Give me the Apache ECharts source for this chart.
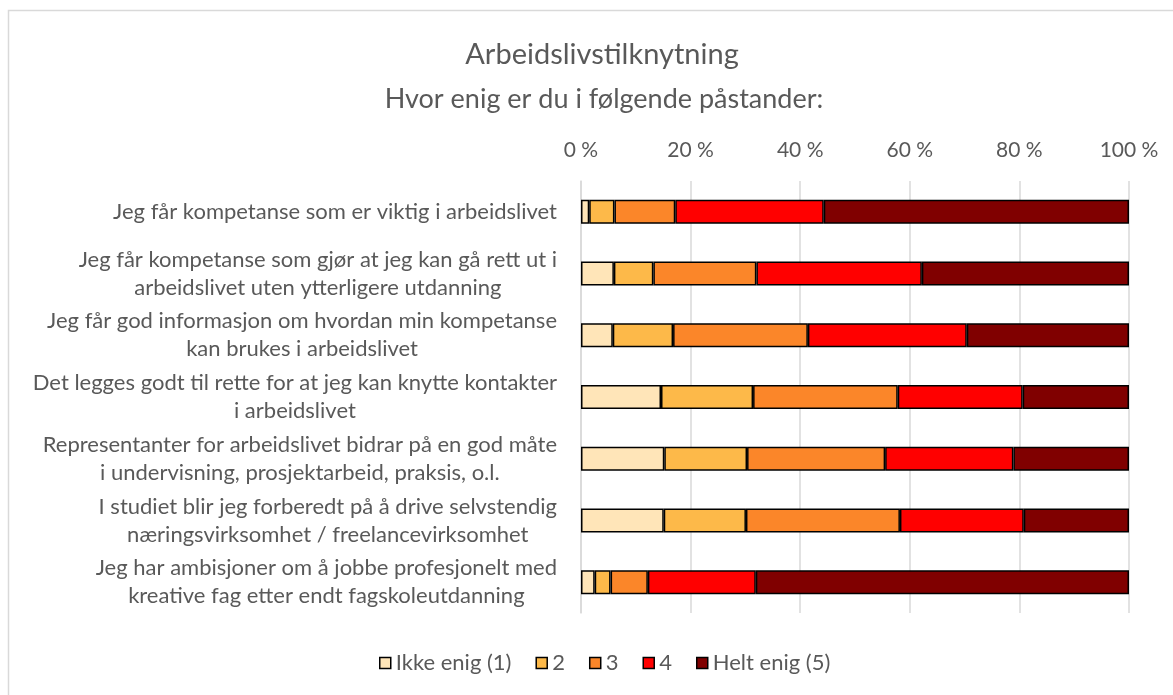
<!DOCTYPE html>
<html>
<head>
<meta charset="utf-8">
<script src="https://cdn.jsdelivr.net/npm/echarts@6/dist/echarts.min.js"></script>
<style>
  html, body { margin: 0; padding: 0; background: #fff; }
  #chart { width: 1173px; height: 695px; }
</style>
</head>
<body>
<div id="chart"></div>
<script>
// statements, top to bottom
const categories = [
  'Jeg får kompetanse som er viktig i arbeidslivet',
  'Jeg får kompetanse som gjør at jeg kan gå rett ut i\narbeidslivet uten ytterligere utdanning',
  'Jeg får god informasjon om hvordan min kompetanse\nkan brukes i arbeidslivet',
  'Det legges godt til rette for at jeg kan knytte kontakter\ni arbeidslivet',
  'Representanter for arbeidslivet bidrar på en god måte\ni undervisning, prosjektarbeid, praksis, o.l.',
  'I studiet blir jeg forberedt på å drive selvstendig\nnæringsvirksomhet / freelancevirksomhet',
  'Jeg har ambisjoner om å jobbe profesjonelt med\nkreative fag etter endt fagskoleutdanning'
]

const seriesNames = ['Ikke enig (1)', '2', '3', '4', 'Helt enig (5)']
const colors = ['#FFE5B8', '#FDB949', '#FB8629', '#FF0000', '#800000']

// share (%) per statement for each answer
const ans1 = [1.5, 6.0, 5.8, 14.6, 15.2, 15.1, 2.5]
const ans2 = [4.6, 7.2, 11.0, 16.8, 15.1, 15.0, 2.9]
const ans3 = [11.1, 18.8, 24.6, 26.4, 25.2, 28.1, 6.8]
const ans4 = [27.1, 30.2, 29.0, 22.8, 23.4, 22.6, 19.7]
const ans5 = [55.7, 37.8, 29.6, 19.4, 21.1, 19.2, 68.1]
const allAnswers = [ans1, ans2, ans3, ans4, ans5]

const xTicks = [0, 20, 40, 60, 80, 100]

const textColor = '#595959'
const fontFamily = 'Lato, "Open Sans", sans-serif'

const chart = echarts.init(document.getElementById('chart'))

chart.setOption({
  animation: false,
  textStyle: { fontFamily: fontFamily },
  graphic: [{
    type: 'rect',
    shape: { x: 8.5, y: 10.5, width: 1300, height: 800 },
    style: { fill: 'none', stroke: '#d9d9d9', lineWidth: 1.5 },
    silent: true
  }],
  title: [
    {
      text: 'Arbeidslivstilknytning',
      left: 597,
      top: 35,
      textAlign: 'center',
      textStyle: { color: textColor, fontSize: 29, fontWeight: 'normal', fontFamily: fontFamily }
    },
    {
      text: 'Hvor enig er du i følgende påstander:',
      left: 599,
      top: 81,
      textAlign: 'center',
      textStyle: { color: textColor, fontSize: 27, fontWeight: 'normal', fontFamily: fontFamily }
    }
  ],
  legend: {
    bottom: 16,
    left: 374,
    itemWidth: 11,
    itemHeight: 11,
    itemGap: 24,
    icon: 'rect',
    textStyle: { color: textColor, fontSize: 22, padding: [0, 0, 0, 0] },
    itemStyle: { borderColor: '#000', borderWidth: 1.5 },
    data: seriesNames
  },
  grid: {
    left: 581,
    right: 44,
    top: 181,
    bottom: 82,
    containLabel: false
  },
  xAxis: {
    type: 'value',
    position: 'top',
    min: 0,
    max: 100,
    interval: 20,
    axisLine: { show: false },
    axisTick: { show: false },
    axisLabel: {
      color: textColor,
      fontSize: 21,
      margin: 20,
      formatter: function (v) { return xTicks.indexOf(v) >= 0 ? v + ' %' : '' }
    },
    splitLine: { lineStyle: { color: '#d9d9d9', width: 1.5 } }
  },
  yAxis: {
    type: 'category',
    inverse: true,
    data: categories,
    axisLine: { show: true, lineStyle: { color: '#d9d9d9', width: 1.5 } },
    axisTick: { show: false },
    axisLabel: {
      color: textColor,
      fontSize: 22,
      margin: 24,
      lineHeight: 28,
      formatter: function (v) {
        return v.split('\n').map(function (l) { return '{c|' + l + '}' }).join('\n')
      },
      rich: {
        c: { align: 'center', color: textColor, fontSize: 22, lineHeight: 28, fontFamily: fontFamily }
      }
    }
  },
  series: allAnswers.map(function (vals, i) {
    return {
      name: seriesNames[i],
      type: 'bar',
      stack: 'total',
      barWidth: 24,
      itemStyle: { color: colors[i], borderColor: '#000', borderWidth: 1.5 },
      data: vals
    }
  })
})
</script>
</body>
</html>
